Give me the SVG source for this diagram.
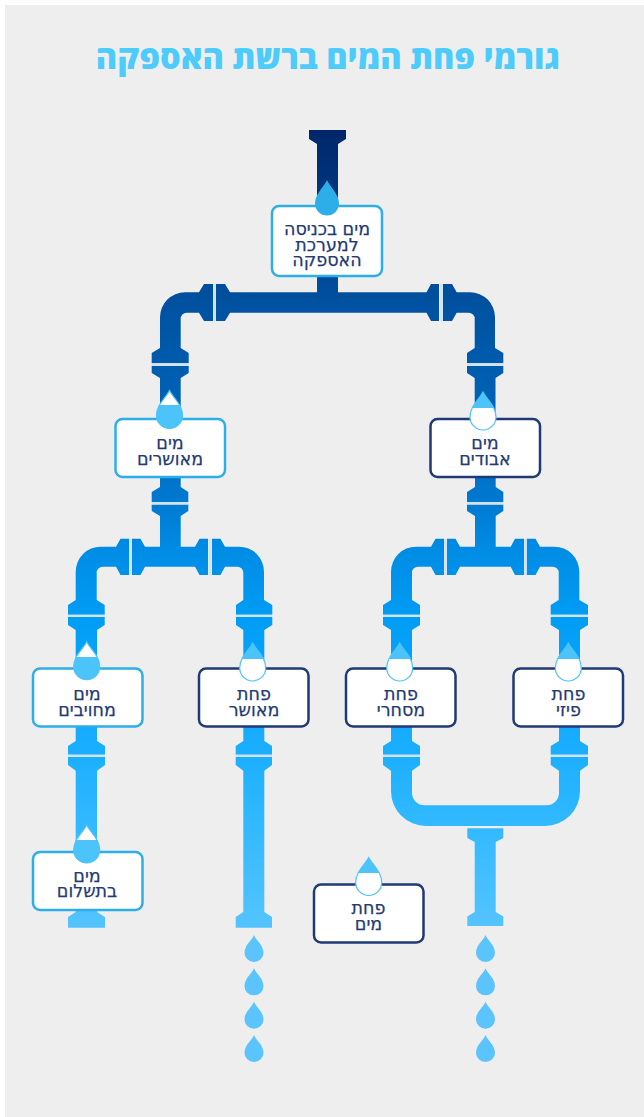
<svg xmlns="http://www.w3.org/2000/svg" width="644" height="1117" viewBox="0 0 644 1117">
<style>
.box{fill:#fff;stroke-width:2.5}
.in{stroke:#2eaee8}
.out{stroke:#1f3a75}
.t{font-family:"DejaVu Sans",sans-serif;font-size:17.500px;fill:#233a75;stroke:#233a75;stroke-width:.25;text-anchor:middle}
.title{font-family:"Open Sans",sans-serif;font-weight:800;font-size:32.500px;fill:#4dcbfb;text-anchor:middle}
.pipe{fill:url(#pipe)}
.tail{fill:#5cc4fc}
.dA{fill:url(#dropA);stroke:#4dc4f9;stroke-width:1.2}
.dB{fill:url(#dropB);stroke:#4dc4f9;stroke-width:1.2}
.gap{fill:#d5e3ef}
</style>
<defs>
<linearGradient id="pipe" gradientUnits="userSpaceOnUse" x1="0" y1="130" x2="0" y2="930">
<stop offset="0" stop-color="#00266a"/><stop offset=".21" stop-color="#00509f"/><stop offset=".34" stop-color="#0062b5"/><stop offset=".46" stop-color="#0078d0"/><stop offset=".525" stop-color="#008ce5"/><stop offset=".61" stop-color="#009df5"/><stop offset=".775" stop-color="#1aaeff"/><stop offset=".86" stop-color="#30b8ff"/><stop offset="1" stop-color="#55c4ff"/>
</linearGradient>
<linearGradient id="dropA" x1="0" y1="0" x2="0" y2="1"><stop offset=".39" stop-color="#fff"/><stop offset=".39" stop-color="#4dc4f9"/></linearGradient>
<linearGradient id="dropB" x1="0" y1="0" x2="0" y2="1"><stop offset=".42" stop-color="#4dc4f9"/><stop offset=".42" stop-color="#fff"/></linearGradient>
<path id="drop" d="M0 0C4 8 13 14 13 25A13 13 0 1 1-13 25C-13 14-4 8 0 0Z"/>
<path id="drop0" d="M0 0C3 7 12 14 12 23.500A12 12 0 1 1-12 23.500C-12 14-3 7 0 0Z"/>
<path id="tail" d="M0 0C2.500 6 9.500 10 9.500 18A9.500 9 0 1 1-9.500 18C-9.500 10-2.500 6 0 0Z"/>
</defs>
<rect width="644" height="1117" fill="#fff"/>
<rect x="5" y="5" width="639" height="1112" fill="#eee"/>
<text class="title" x="328" y="69">גורמי פחת המים ברשת האספקה</text>
<g id="connectors">
<path class="pipe" d="M309 130H346V139L338 144V206H317V144L309 139Z"/>
<path class="pipe" d="M317 276H338V293H317Z"/>
<path class="pipe" d="M216 284H225L230 292.300H426.500L431 284H439V321H431L426.500 312.700H230L225 321H216Z"/>
<path class="pipe" d="M213 284H204L199 292.300H185A25 25 0 0 0 160 317.300V348L151.700 353V363.300H188.700V353L180.700 348V319A6 6 0 0 1 186.700 312.700H199L204 321H213Z"/>
<path class="pipe" d="M151.700 366H188.700V373L180.700 378V419H160V378L151.700 373Z"/>
<path class="pipe" d="M443 284H452L456.700 292.300H470A25 25 0 0 1 495 317.300V348L503.300 353V363.300H467V353L474.700 348V319A6 6 0 0 0 468.700 312.700H456.700L452 321H443Z"/>
<path class="pipe" d="M467 366H503.300V373L495.500 378V419H474.700V378L467 373Z"/>
<path class="pipe" d="M160 477H180.700V487L188.300 492V502H151.700V492L160 487Z"/>
<path class="pipe" d="M151.700 504.500H188.300V511L180.700 516V546.700H195L199.500 538.700H208V575H199.500L195 566.700H145L140.500 575H132V538.700H140.500L145 546.700H160V516L151.700 511Z"/>
<path class="pipe" d="M129 538.700H120.500L116 546.700H100.700A25 25 0 0 0 75.700 571.700V600L68 605V614.700H104.700V605L96.700 600V573A6 6 0 0 1 102.700 566.700H116L120.500 575H129Z"/>
<path class="pipe" d="M68 617H104.700V625L97 630V668H75.700V630L68 625Z"/>
<path class="pipe" d="M212 538.700H220.500L225 546.700H239A25 25 0 0 1 264 571.700V600L272.300 605V614.700H236V605L243.300 600V573A6 6 0 0 0 237.300 566.700H225L220.500 575H212Z"/>
<path class="pipe" d="M236 617H272.300V625L264.300 630V668H243.300V630L236 625Z"/>
<path class="pipe" d="M475 477H495.700V487L503.300 492V502H467V492L475 487Z"/>
<path class="pipe" d="M467 504.500H503.300V511L495.700 516V546.700H510.700L515 538.700H524V575H515L510.700 566.700H460L455.500 575H447V538.700H455.500L460 546.700H475V516L467 511Z"/>
<path class="pipe" d="M444 538.700H435.500L431 546.700H416A25 25 0 0 0 391 571.700V600L383 605V614.700H420V605L412 600V573A6 6 0 0 1 418 566.700H431L435.500 575H444Z"/>
<path class="pipe" d="M383 617H420V625L412 630V668H391V630L383 625Z"/>
<path class="pipe" d="M526.700 538.700H535.500L540 546.700H554.300A25 25 0 0 1 579.300 571.700V600L588 605V614.700H550.700V605L558.700 600V573A6 6 0 0 0 552.700 566.700H540L535.500 575H526.700Z"/>
<path class="pipe" d="M550.700 617H588V625L580 630V668H559V630L550.700 625Z"/>
<path class="pipe" d="M391 726H412V741L420 746V754.700H383V746L391 741Z"/>
<path class="pipe" d="M559 726H580V741L588 746V754.700H550.700V746L559 741Z"/>
<path class="pipe" d="M383 757H420V765L412 770.700V793A12.500 12.500 0 0 0 424.500 805.300H546.500A12.500 12.500 0 0 0 559 793V770.700L550.700 765V757H588V765L580 770.700V791A35 35 0 0 1 545 826H426A35 35 0 0 1 391 791V770.700L383 765Z"/>
<path class="pipe" d="M467.300 828.300H503.300V838L495.700 842V912L503.300 916.500V926H467.300V916.500L474.700 912V842L467.300 838Z"/>
<path class="pipe" d="M75.700 726H97V741L105 746V754.700H68V746L75.700 741Z"/>
<path class="pipe" d="M68 757H105V765L97 770.700V852H75.700V770.700L68 765Z"/>
<path class="pipe" d="M75.700 909H97V912L105 917V927.700H68V917L75.700 912Z"/>
<path class="pipe" d="M243.300 726H264.300V741L272 746V754.700H235.700V746L243.300 741Z"/>
<path class="pipe" d="M235.700 757H272V765L264.300 770.700V912L272 917V927.700H235.700V917L243.300 912V770.700L235.700 765Z"/>
<path class="gap" d="M213 284h3v37h-3zM440 284h3v37h-3zM129 539h3v36h-3zM208.500 539h3v36h-3zM444 539h3v36h-3zM524 539h2.700v36h-2.700zM151.700 363.300h37v2.700h-37zM467 363.300h36.300v2.700h-36.300zM151.700 502h36.600v2.500h-36.600zM467 502h36.300v2.500h-36.300zM68 614.700h36.700v2.300h-36.700zM236 614.700h36.300v2.300h-36.300zM383 614.700h37v2.300h-37zM550.700 614.700h37.300v2.300h-37.300zM68 754.700h37v2.300h-37zM235.700 754.700h36.300v2.300h-36.300zM383 754.700h37v2.300h-37zM550.700 754.700h37.300v2.300h-37.300z"/>
</g>
<g id="leak-left">
<use class="tail" href="#tail" x="254" y="935"/><use class="tail" href="#tail" x="254" y="968.300"/><use class="tail" href="#tail" x="254" y="1001.700"/><use class="tail" href="#tail" x="254" y="1035"/>
</g>
<g id="leak-right">
<use class="tail" href="#tail" x="485.500" y="935"/><use class="tail" href="#tail" x="485.500" y="968.300"/><use class="tail" href="#tail" x="485.500" y="1001.700"/><use class="tail" href="#tail" x="485.500" y="1035"/>
</g>
<g id="n-input">
<rect class="box in" x="272" y="206" width="110" height="70" rx="7"/>
<use href="#drop0" x="327" y="180" fill="#2eaee8"/>
<text class="t" x="327" y="235">מים בכניסה</text><text class="t" x="327" y="250.500">למערכת</text><text class="t" x="327" y="265.500">האספקה</text>
</g>
<g id="n-approved">
<rect class="box in" x="115.500" y="419" width="109.500" height="58" rx="7"/>
<use class="dA" href="#drop" x="169.500" y="390.500"/>
<text class="t" x="170" y="449">מים</text><text class="t" x="170" y="465">מאושרים</text>
</g>
<g id="n-lost">
<rect class="box out" x="430.500" y="419" width="109.500" height="58" rx="7"/>
<use class="dB" href="#drop" x="483" y="392"/>
<text class="t" x="485" y="449">מים</text><text class="t" x="485" y="465">אבודים</text>
</g>
<g id="n-billable">
<rect class="box in" x="33" y="668.500" width="109.500" height="58" rx="7"/>
<use class="dA" href="#drop" x="86.700" y="641.700"/>
<text class="t" x="87" y="700">מים</text><text class="t" x="87" y="716">מחויבים</text>
</g>
<g id="n-approved-loss">
<rect class="box out" x="199" y="668.500" width="109.500" height="58" rx="7"/>
<use class="dB" href="#drop" x="252.700" y="643"/>
<text class="t" x="254" y="700">פחת</text><text class="t" x="254" y="716">מאושר</text>
</g>
<g id="n-commercial">
<rect class="box out" x="346" y="668.500" width="109.500" height="58" rx="7"/>
<use class="dB" href="#drop" x="399.700" y="643"/>
<text class="t" x="401" y="700">פחת</text><text class="t" x="401" y="716">מסחרי</text>
</g>
<g id="n-physical">
<rect class="box out" x="513.500" y="668.500" width="109.500" height="58" rx="7"/>
<use class="dB" href="#drop" x="568.300" y="643"/>
<text class="t" x="568.500" y="700">פחת</text><text class="t" x="568.500" y="716">פיזי</text>
</g>
<g id="n-paid">
<rect class="box in" x="33" y="852" width="109.500" height="58" rx="7"/>
<use class="dA" href="#drop" x="86.700" y="825"/>
<text class="t" x="87" y="882">מים</text><text class="t" x="87" y="897">בתשלום</text>
</g>
<g id="n-loss">
<rect class="box out" x="314" y="884.500" width="109.500" height="58" rx="7"/>
<use class="dB" href="#drop" x="368.700" y="857.500"/>
<text class="t" x="368.500" y="914">פחת</text><text class="t" x="368.500" y="930">מים</text>
</g>
</svg>
